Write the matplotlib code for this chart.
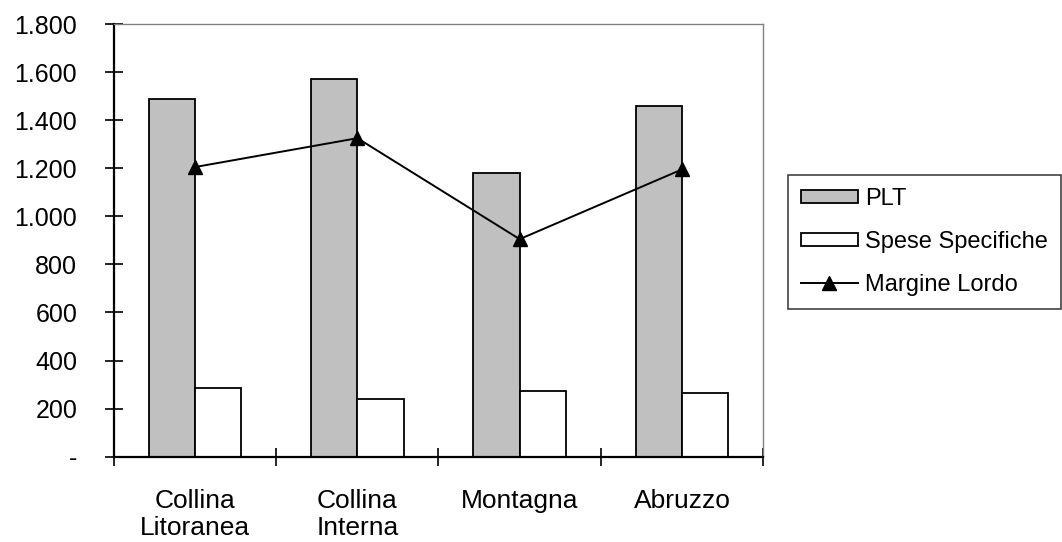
import matplotlib.pyplot as plt
import numpy as np

plt.rcParams["font.family"] = ["Liberation Sans", "DejaVu Sans"]

categories = ["Collina\nLitoranea", "Collina\nInterna", "Montagna", "Abruzzo"]
plt_values = [1490, 1570, 1180, 1460]
spese_values = [285, 240, 275, 265]
margine_values = [1205, 1325, 905, 1195]
y_ticks = [0, 200, 400, 600, 800, 1000, 1200, 1400, 1600, 1800]
y_labels = ["-", "200", "400", "600", "800", "1.000", "1.200", "1.400", "1.600", "1.800"]

fig = plt.figure(figsize=(10.62, 5.42), dpi=100)
ax = fig.add_axes([0.1073, 0.1574, 0.6112, 0.7983])

x = np.arange(len(categories))
w = 0.285
b1 = ax.bar(x - w / 2, plt_values, w, color="#c0c0c0", edgecolor="black",
            linewidth=1.3, label="PLT", zorder=2)
b2 = ax.bar(x + w / 2, spese_values, w, color="white", edgecolor="black",
            linewidth=1.3, label="Spese Specifiche", zorder=2)
l1, = ax.plot(x, margine_values, color="black", linewidth=1.4, marker="^",
              markersize=10, label="Margine Lordo", zorder=3)

ax.set_xlim(-0.5, len(categories) - 0.5)
ax.set_ylim(0, 1800)

ax.set_yticks(y_ticks)
ax.set_yticklabels(y_labels)
# category borders get the ticks, names sit in between
ax.set_xticks(np.arange(len(categories) + 1) - 0.5)
ax.set_xticklabels([])
ax.set_xticks(x, minor=True)
ax.set_xticklabels(categories, minor=True, linespacing=1.2)

ax.tick_params(axis="both", which="major", direction="inout", length=13,
               width=1.2, labelsize=18, color="black")
ax.tick_params(axis="y", pad=20)
ax.tick_params(axis="x", which="minor", length=0, labelsize=19, pad=23)

for side in ["top", "right"]:
    ax.spines[side].set_color("#808080")
    ax.spines[side].set_linewidth(1.0)
for side in ["left", "bottom"]:
    ax.spines[side].set_color("black")
    ax.spines[side].set_linewidth(1.6)

leg = fig.legend([b1, b2, l1], ["PLT", "Spese Specifiche", "Margine Lordo"],
                 loc="upper left", bbox_to_anchor=(788 / 1062, 1 - 175 / 542),
                 frameon=True, fancybox=False, fontsize=17, handlelength=2.4,
                 handleheight=0.45, handletextpad=0.3, borderpad=0.55,
                 labelspacing=0.88, borderaxespad=0)
leg.get_frame().set_edgecolor("black")
leg.get_frame().set_linewidth(1.1)

fig.savefig("out.png", dpi=100, facecolor="white")
